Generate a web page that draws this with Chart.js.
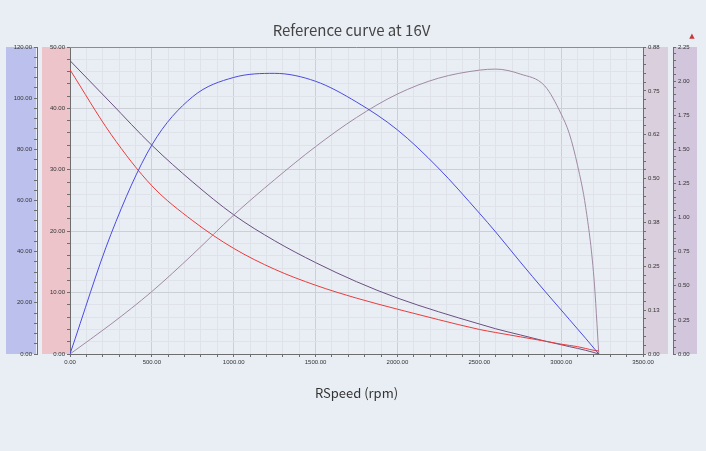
<!DOCTYPE html>
<html>
<head>
  <title>Reference curve at 16V</title>
  <script src="https://cdn.jsdelivr.net/npm/chart.js"></script>
  <style>
    body { margin: 0; background: #e9eef5; }
    #chartContainer { width: 706px; height: 451px; }
  </style>
</head>
<body>
  <div id="chartContainer">
    <canvas id="myChart"></canvas>
  </div>

  <script>
    // speed points (rpm)
    const rpm = [0, 250, 500, 750, 1000, 1250, 1500, 1750, 2000, 2250, 2500, 2600, 2750, 2900, 3000, 3050, 3100, 3150, 3200, 3230];
    // red curve, red axis (0 - 50)
    const current = [46.3, 35.8, 27.4, 21.7, 17.2, 13.8, 11.2, 9.1, 7.3, 5.6, 4.0, 3.5, 2.8, 2.1, 1.6, 1.4, 1.2, 0.9, 0.6, 0.5];
    // blue curve, blue axis (0 - 120)
    const power = [0, 46.8, 81.7, 100.6, 108.1, 109.7, 106.6, 98.5, 87.6, 72.7, 55.1, 47.7, 36.0, 24.6, 17.2, 13.5, 9.8, 6.1, 2.3, 0];
    // dark purple curve, outer right axis (0 - 2.25)
    const torque = [2.15, 1.84, 1.53, 1.26, 1.02, 0.83, 0.67, 0.53, 0.41, 0.31, 0.22, 0.185, 0.14, 0.095, 0.068, 0.054, 0.041, 0.027, 0.011, 0];
    // mauve curve, inner right axis (0 - 0.88)
    const efficiency = [0, 0.085, 0.178, 0.284, 0.396, 0.497, 0.591, 0.674, 0.741, 0.786, 0.809, 0.812, 0.798, 0.764, 0.684, 0.628, 0.538, 0.418, 0.219, 0];

    const effLabels = ['0.00', '0.13', '0.25', '0.38', '0.50', '0.62', '0.75', '0.88'];

    const gridMajor = '#cbcfd6';
    const gridMinor = '#dfe3e9';
    const axisGrey = '#6e6e6e';
    const labelGrey = '#333';

    // colored strips behind the y axes
    const panels = {
      yPower: { color: '#bcc0ec', inL: 0, inR: 1 },
      yCurrent: { color: '#ecc4c9', inL: 5, inR: 0 },
      yEff: { color: '#dacfdc', inL: 0, inR: 5 },
      yTorque: { color: '#d2c6dd', inL: 0, inR: 0 }
    };

    const panelPlugin = {
      id: 'panels',
      beforeDraw(chart) {
        const ctx = chart.ctx;
        const a = chart.chartArea;
        ctx.save();
        ctx.fillStyle = '#e9eef5';
        ctx.fillRect(0, 0, chart.width, chart.height);
        for (const id in panels) {
          const s = chart.scales[id];
          const p = panels[id];
          ctx.fillStyle = p.color;
          ctx.fillRect(s.left + p.inL, a.top, s.width - p.inL - p.inR, a.bottom - a.top);
        }
        ctx.restore();
      },
      afterDraw(chart) {
        const ctx = chart.ctx;
        const a = chart.chartArea;
        ctx.save();
        ctx.strokeStyle = '#8c8c8c';
        ctx.lineWidth = 1;
        ctx.beginPath();
        ctx.moveTo(a.left, a.top + 0.5);
        ctx.lineTo(a.right, a.top + 0.5);
        ctx.stroke();
        ctx.fillStyle = '#c43a3a';
        ctx.font = '7px "DejaVu Sans"';
        ctx.textAlign = 'center';
        ctx.fillText('▲', 692, 38);
        ctx.restore();
      }
    };

    function pts(ys) {
      return rpm.map((x, i) => ({ x: x, y: ys[i] }));
    }

    function near(v, step) {
      return Math.abs(v / step - Math.round(v / step)) < 1e-6;
    }

    const tickFont = { size: 6, family: '"Liberation Sans", Arial' };

    Chart.defaults.font.family = '"Noto Sans CJK JP", "Noto Sans", sans-serif';

    const ctx = document.getElementById('myChart').getContext('2d');
    const myChart = new Chart(ctx, {
      type: 'line',
      data: {
        datasets: [{
          label: 'power',
          data: pts(power),
          yAxisID: 'yPower',
          borderColor: '#4b4be0',
          borderWidth: 1
        }, {
          label: 'current',
          data: pts(current),
          yAxisID: 'yCurrent',
          borderColor: '#ea3c3c',
          borderWidth: 1
        }, {
          label: 'efficiency',
          data: pts(efficiency),
          yAxisID: 'yEff',
          borderColor: '#a08aa2',
          borderWidth: 1
        }, {
          label: 'torque',
          data: pts(torque),
          yAxisID: 'yTorque',
          borderColor: '#6c5080',
          borderWidth: 1
        }]
      },
      options: {
        responsive: true,
        maintainAspectRatio: false,
        animation: false,
        elements: {
          point: { radius: 0 },
          line: { cubicInterpolationMode: 'monotone', fill: false }
        },
        layout: { padding: { left: 6, right: 9, top: 0, bottom: 0 } },
        plugins: {
          legend: { display: false },
          tooltip: { enabled: false },
          title: {
            display: true,
            text: 'Reference curve at 16V',
            color: '#444',
            font: { size: 15, weight: 'normal' },
            padding: { top: 21, bottom: 8 }
          }
        },
        scales: {
          x: {
            type: 'linear',
            min: 0,
            max: 3500,
            afterFit(s) { s.height = 97; },
            ticks: {
              stepSize: 100,
              autoSkip: false,
              maxRotation: 0,
              padding: 2,
              font: tickFont,
              color: labelGrey,
              callback: v => near(v, 500) ? v.toFixed(2) : ''
            },
            grid: {
              color: c => (c.tick && near(c.tick.value, 500)) ? gridMajor : gridMinor,
              tickLength: 3,
              tickColor: axisGrey
            },
            border: { color: axisGrey },
            title: {
              display: true,
              text: 'RSpeed (rpm)',
              color: '#333',
              font: { size: 13 },
              padding: { top: 0, bottom: 50 }
            }
          },
          yPower: {
            position: 'left',
            weight: 1,
            min: 0,
            max: 120,
            afterFit(s) { s.width = 31; },
            ticks: {
              stepSize: 4,
              autoSkip: false,
              padding: 2,
              font: tickFont,
              color: labelGrey,
              callback: v => near(v, 20) ? v.toFixed(2) : ''
            },
            grid: { drawOnChartArea: false, tickLength: 3, tickColor: axisGrey },
            border: { color: axisGrey }
          },
          yCurrent: {
            position: 'left',
            weight: 0,
            min: 0,
            max: 50,
            afterFit(s) { s.width = 33; },
            ticks: {
              stepSize: 2,
              autoSkip: false,
              padding: 2,
              font: tickFont,
              color: labelGrey,
              callback: v => near(v, 10) ? v.toFixed(2) : ''
            },
            grid: {
              color: c => (c.tick && near(c.tick.value, 10)) ? gridMajor : gridMinor,
              tickLength: 3,
              tickColor: axisGrey
            },
            border: { color: axisGrey }
          },
          yEff: {
            position: 'right',
            weight: 0,
            min: 0,
            max: 0.875,
            afterFit(s) { s.width = 30; },
            ticks: {
              stepSize: 0.025,
              autoSkip: false,
              padding: 2,
              font: tickFont,
              color: labelGrey,
              callback: v => near(v, 0.125) ? effLabels[Math.round(v / 0.125)] : ''
            },
            grid: { drawOnChartArea: false, tickLength: 3, tickColor: axisGrey },
            border: { color: axisGrey }
          },
          yTorque: {
            position: 'right',
            weight: 1,
            min: 0,
            max: 2.25,
            afterFit(s) { s.width = 24; },
            ticks: {
              stepSize: 0.05,
              autoSkip: false,
              padding: 2,
              font: tickFont,
              color: labelGrey,
              callback: v => near(v, 0.25) ? v.toFixed(2) : ''
            },
            grid: { drawOnChartArea: false, tickLength: 3, tickColor: axisGrey },
            border: { color: axisGrey }
          }
        }
      },
      plugins: [panelPlugin]
    });
  </script>
</body>
</html>
